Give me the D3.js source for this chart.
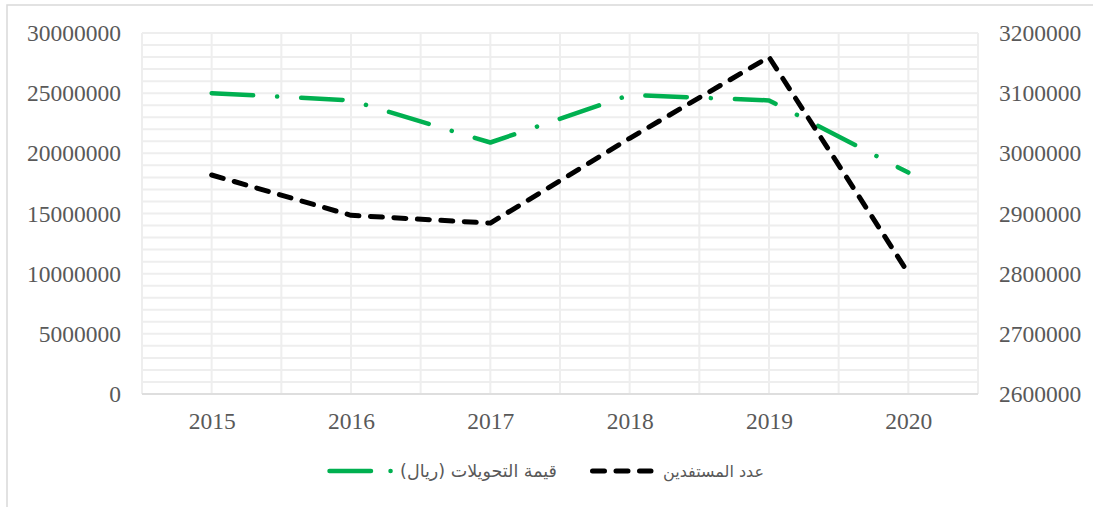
<!DOCTYPE html>
<html>
<head>
<meta charset="utf-8">
<script src="https://cdn.jsdelivr.net/npm/d3@7"></script>
<style>
  body { margin: 0; background: #fff; }
</style>
</head>
<body>
<div id="chart"></div>
<script>
// data
const years = ['2015', '2016', '2017', '2018', '2019', '2020']
const transfers = [25000000, 24400000, 20900000, 24850000, 24400000, 18400000]
const beneficiaries = [2964000, 2897000, 2884000, 3025000, 3160000, 2801000]
const leftTicks = [0, 5000000, 10000000, 15000000, 20000000, 25000000, 30000000]
const rightTicks = [2600000, 2700000, 2800000, 2900000, 3000000, 3100000, 3200000]
const seriesNames = ['قيمة التحويلات (ريال)', 'عدد المستفدين']

// size
const W = 1093
const H = 507
const plot = { left: 142, right: 978, top: 33, bottom: 394 }
const labelColor = '#595959'
const green = '#00B050'

// scale
const x = d3.scalePoint().domain(years).range([plot.left, plot.right]).padding(0.5)
const band = d3.scaleBand().domain(years).range([plot.left, plot.right])
const yLeft = d3.scaleLinear().domain([0, 30000000]).range([plot.bottom, plot.top])
const yRight = d3.scaleLinear().domain([2600000, 3200000]).range([plot.bottom, plot.top])

const svg = d3.select('#chart').append('svg').attr('width', W).attr('height', H)

// chart frame
svg.append('rect')
  .attr('x', 7).attr('y', 5).attr('width', W + 20).attr('height', H + 20)
  .attr('fill', 'none').attr('stroke', '#d9d9d9').attr('stroke-width', 1.5)

// gridlines
const grid = svg.append('g')
const hLines = d3.range(0, 30000001, 1000000)
grid.selectAll('line.h').data(hLines).join('line')
  .attr('x1', plot.left).attr('x2', plot.right)
  .attr('y1', d => yLeft(d)).attr('y2', d => yLeft(d))
  .attr('stroke', '#eeeeee').attr('stroke-width', 2)

const vLines = years.flatMap(d => [band(d), band(d) + band.bandwidth() / 2])
vLines.push(plot.right)
grid.selectAll('line.v').data(vLines).join('line')
  .attr('x1', d => d).attr('x2', d => d)
  .attr('y1', plot.top).attr('y2', plot.bottom)
  .attr('stroke', '#eeeeee').attr('stroke-width', 2)

// x axis line
svg.append('line')
  .attr('x1', plot.left).attr('x2', plot.right)
  .attr('y1', plot.bottom).attr('y2', plot.bottom)
  .attr('stroke', '#d9d9d9').attr('stroke-width', 1.5)

const styleAxis = g => {
  g.select('.domain').remove()
  g.selectAll('text')
    .attr('font-family', '"Liberation Serif", "Times New Roman", serif')
    .attr('font-size', '23.5px')
    .attr('fill', labelColor)
}

// x axis
svg.append('g')
  .attr('transform', `translate(0, ${plot.bottom})`)
  .call(d3.axisBottom(x).tickSize(0).tickPadding(18))
  .call(styleAxis)

// left axis
svg.append('g')
  .attr('transform', `translate(${plot.left}, 0)`)
  .call(d3.axisLeft(yLeft).tickValues(leftTicks).tickSize(0).tickPadding(21).tickFormat(d3.format('d')))
  .call(styleAxis)

// right axis
svg.append('g')
  .attr('transform', `translate(${plot.right}, 0)`)
  .call(d3.axisRight(yRight).tickValues(rightTicks).tickSize(0).tickPadding(21).tickFormat(d3.format('d')))
  .call(styleAxis)

// lines
const greenLine = d3.line().x((d, i) => x(years[i])).y(d => yLeft(d))
const blackLine = d3.line().x((d, i) => x(years[i])).y(d => yRight(d))

svg.append('path')
  .datum(transfers)
  .attr('d', greenLine)
  .attr('fill', 'none')
  .attr('stroke', green)
  .attr('stroke-width', 4.5)
  .attr('stroke-linecap', 'round')
  .attr('stroke-linejoin', 'round')
  .attr('stroke-dasharray', '41.5,24,0.1,24')

svg.append('path')
  .datum(beneficiaries)
  .attr('d', blackLine)
  .attr('fill', 'none')
  .attr('stroke', '#000')
  .attr('stroke-width', 5)
  .attr('stroke-linecap', 'round')
  .attr('stroke-linejoin', 'round')
  .attr('stroke-dasharray', '12,11.5')

// legend
const legend = svg.append('g').attr('transform', 'translate(0, 471)')

legend.append('path')
  .attr('d', 'M329.5,0 H392')
  .attr('stroke', green).attr('stroke-width', 4.5)
  .attr('stroke-linecap', 'round')
  .attr('stroke-dasharray', '41.5,19.5,0.1,24')

legend.append('text')
  .attr('x', 557).attr('y', 0).attr('dy', '0.35em')
  .attr('direction', 'rtl')
  .attr('text-anchor', 'start')
  .attr('font-family', '"DejaVu Sans", sans-serif')
  .attr('font-size', '17.5px')
  .attr('fill', labelColor)
  .text(seriesNames[0])

legend.append('path')
  .attr('d', 'M592.5,0 H651')
  .attr('stroke', '#000').attr('stroke-width', 5)
  .attr('stroke-linecap', 'round')
  .attr('stroke-dasharray', '12,11.5')

legend.append('text')
  .attr('x', 764).attr('y', 0).attr('dy', '0.35em')
  .attr('direction', 'rtl')
  .attr('text-anchor', 'start')
  .attr('font-family', '"DejaVu Sans", sans-serif')
  .attr('font-size', '16px')
  .attr('fill', labelColor)
  .text(seriesNames[1])
</script>
</body>
</html>
